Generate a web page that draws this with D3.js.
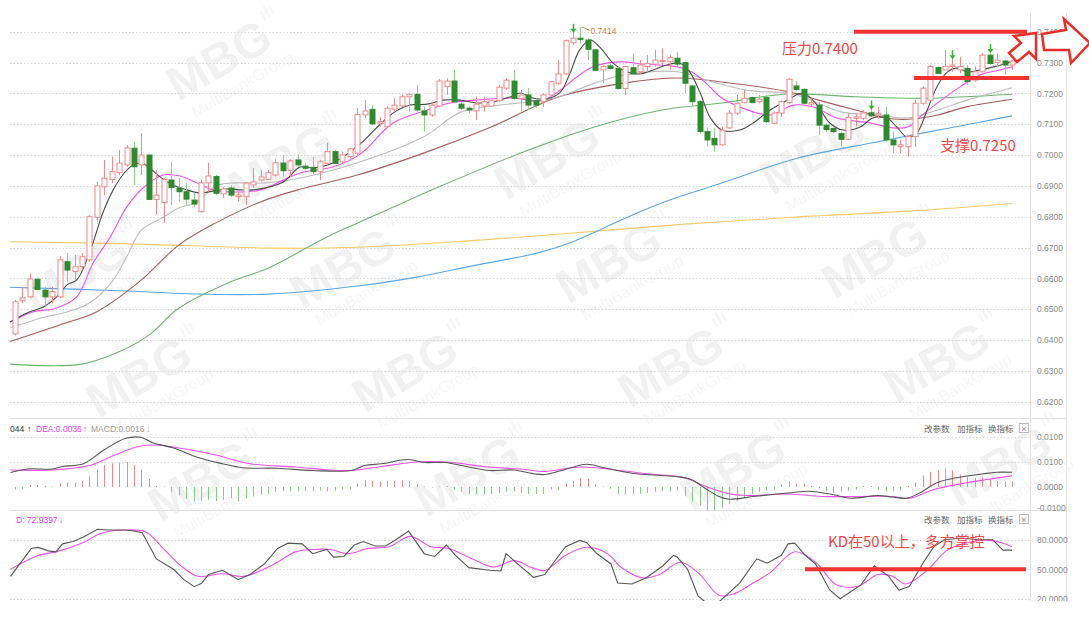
<!DOCTYPE html>
<html><head><meta charset="utf-8">
<script src="https://cdn.jsdelivr.net/npm/d3@7"></script>
<style>body{margin:0;background:#fff;overflow:hidden}svg{display:block}</style>
</head><body>
<svg id="c" width="1089" height="624"></svg>
<script>
// ---------- data ----------
const open=[.6420,.6527,.6540,.6597,.6562,.6540,.6540,.6654,.6622,.6638,
.6660,.6798,.6897,.6921,.6943,.6968,.7022,.6968,.7000,.6856,
.6846,.6919,.6893,.6881,.6854,.6816,.6910,.6930,.6874,.6893,
.6865,.6865,.6903,.6919,.6921,.6935,.6974,.6951,.6984,.6964,
.6960,.6946,.6973,.7011,.6978,.6995,.7006,.7130,.7148,.7103,
.7092,.7149,.7159,.7189,.7197,.7143,.7130,.7159,.7222,.7240,
.7165,.7152,.7143,.7159,.7159,.7176,.7217,.7240,.7184,.7195,
.7176,.7173,.7195,.7233,.7263,.7364,.7379,.7373,.7341,.7276,
.7289,.7281,.7216,.7283,.7270,.7287,.7295,.7303,.7303,.7314,
.7300,.7224,.7173,.7076,.7054,.7033,.7088,.7136,.7170,.7186,
.7173,.7186,.7103,.7136,.7170,.7224,.7213,.7165,.7162,.7097,
.7086,.7070,.7051,.7119,.7119,.7137,.7130,.7130,.7049,.7027,
.7027,.7060,.7168,.7178,.7284,.7276,.7287,.7276,.7281,.7243,
.7270,.7324,.7300,.7305,.7292];
const high=[.6530,.6573,.6617,.6600,.6573,.6573,.6672,.6682,.6676,.6682,
.6805,.6913,.6984,.6995,.7016,.7033,.7043,.7071,.7002,.6951,
.6925,.6978,.6925,.6909,.6877,.6921,.6975,.6935,.6897,.6903,
.6881,.6913,.6958,.6951,.6951,.6986,.7000,.6986,.7003,.6973,
.6995,.6984,.7040,.7016,.7011,.7022,.7152,.7178,.7162,.7124,
.7159,.7184,.7195,.7200,.7227,.7157,.7173,.7246,.7249,.7276,
.7173,.7159,.7189,.7189,.7178,.7227,.7249,.7276,.7211,.7217,
.7184,.7200,.7240,.7308,.7375,.7406,.7414,.7380,.7343,.7292,
.7297,.7287,.7289,.7330,.7308,.7324,.7341,.7346,.7324,.7335,
.7303,.7227,.7178,.7089,.7087,.7092,.7146,.7195,.7211,.7189,
.7195,.7195,.7141,.7178,.7249,.7240,.7217,.7184,.7173,.7103,
.7092,.7076,.7135,.7135,.7146,.7157,.7157,.7157,.7076,.7049,
.7065,.7178,.7224,.7292,.7287,.7341,.7320,.7319,.7292,.7287,
.7330,.7341,.7330,.7308,.7308];
const low=[.6415,.6519,.6536,.6562,.6508,.6519,.6536,.6589,.6595,.6627,
.6653,.6783,.6870,.6909,.6935,.6962,.6903,.6935,.6854,.6805,
.6780,.6838,.6849,.6838,.6832,.6813,.6881,.6870,.6860,.6865,
.6849,.6838,.6893,.6913,.6919,.6930,.6930,.6928,.6962,.6951,
.6938,.6919,.6968,.6971,.6973,.6989,.7000,.7120,.7097,.7092,
.7087,.7141,.7155,.7141,.7141,.7076,.7124,.7157,.7195,.7169,
.7146,.7136,.7114,.7141,.7157,.7173,.7211,.7178,.7141,.7146,
.7152,.7157,.7189,.7227,.7260,.7357,.7362,.7308,.7273,.7234,
.7276,.7213,.7195,.7260,.7263,.7270,.7287,.7292,.7276,.7287,
.7200,.7162,.7070,.7027,.7011,.7030,.7084,.7130,.7168,.7168,
.7168,.7103,.7101,.7124,.7165,.7209,.7165,.7157,.7065,.7076,
.7070,.7027,.7049,.7092,.7114,.7122,.7119,.7043,.7006,.7006,
.6995,.7027,.7162,.7176,.7263,.7276,.7270,.7265,.7227,.7238,
.7267,.7292,.7287,.7260,.7276];
const close=[.6524,.6537,.6598,.6564,.6540,.6557,.6660,.6627,.6638,.6670,
.6800,.6900,.6925,.6946,.6974,.7023,.6962,.7000,.6856,.6870,
.6921,.6895,.6881,.6857,.6841,.6910,.6932,.6876,.6890,.6870,
.6870,.6909,.6913,.6929,.6943,.6975,.6949,.6981,.6968,.6957,
.6946,.6978,.7011,.6973,.7000,.7020,.7132,.7143,.7101,.7108,
.7152,.7162,.7189,.7197,.7146,.7130,.7162,.7240,.7240,.7173,
.7152,.7146,.7165,.7173,.7176,.7220,.7243,.7184,.7195,.7162,
.7162,.7195,.7238,.7263,.7371,.7379,.7375,.7343,.7275,.7287,
.7281,.7216,.7287,.7263,.7292,.7297,.7308,.7306,.7316,.7295,
.7233,.7173,.7076,.7049,.7033,.7081,.7136,.7168,.7184,.7170,
.7181,.7108,.7136,.7173,.7246,.7213,.7168,.7170,.7097,.7083,
.7076,.7051,.7122,.7124,.7137,.7127,.7135,.7049,.7033,.7033,
.7060,.7168,.7217,.7287,.7265,.7287,.7292,.7287,.7238,.7270,
.7324,.7297,.7308,.7292,.7305];

// moving averages: [bar index, price]
const ma5=[[-0.7,.6458],[1.6,.6488],[3.8,.6507],[5.6,.6540],[7,.6579],[8.3,.6595],[10,.6682],[11.8,.6812],[13.2,.6887],[14.8,.6945],[15.9,.6968],[17,.6974],[18.1,.6958],[19.5,.6929],[21.2,.6903],[23.1,.6887],[24.9,.6877],[26.6,.6883],[28.5,.6890],[30.2,.6887],[32,.6887],[36,.6912],[38.3,.6961],[40,.6958],[42.7,.6974],[46.4,.7036],[48.7,.7091],[50.8,.7136],[53.1,.7162],[55.4,.7165],[57.5,.7178],[59.8,.7178],[62.1,.7169],[64.2,.7172],[66.5,.7188],[67.9,.7201],[69.6,.7185],[71.5,.7182],[73.3,.7204],[74.6,.7266],[75.9,.7341],[77.3,.7373],[78.6,.7350],[80.4,.7298],[82.3,.7269],[84,.7263],[85.8,.7276],[87.6,.7292],[89.4,.7298],[90.7,.7269],[92.1,.7201],[93.4,.7123],[95,.7081],[97.4,.7081],[99.2,.7104],[101.5,.7146],[103.8,.7178],[105.9,.7201],[107.8,.7162],[109.5,.7104],[111.3,.7081],[113.6,.7091],[115.3,.7120],[117.2,.7120],[118.5,.7091],[119.9,.7058],[121.2,.7071],[122.6,.7146],[123.9,.7221],[125.3,.7269],[126.6,.7282],[128,.7269],[129.7,.7276],[131.5,.7286],[133.3,.7298],[134,.7305]];
const ma10=[[-0.7,.6458],[2.4,.6491],[5.6,.6504],[8.3,.6540],[10.5,.6650],[12.8,.6734],[15,.6831],[17.2,.6893],[19.9,.6935],[22.2,.6932],[24.5,.6909],[26.6,.6887],[29.3,.6880],[33,.6887],[38.3,.6942],[42.7,.6961],[46.4,.7003],[50.8,.7104],[55.4,.7146],[58.5,.7169],[62,.7178],[66.5,.7185],[71,.7178],[73.3,.7211],[75.5,.7253],[77.7,.7286],[81.3,.7302],[84.4,.7295],[89,.7286],[91,.7269],[93.4,.7221],[94.8,.7188],[97.4,.7156],[101.5,.7130],[104.6,.7162],[107.3,.7156],[110.5,.7120],[115,.7104],[118,.7088],[120,.7091],[121.6,.7123],[124,.7169],[127,.7221],[129.7,.7260],[132.4,.7276],[134,.7286]];
const ma20=[[-0.7,.6439],[4,.6475],[7,.6491],[10,.6520],[13,.6588],[15,.6669],[17,.6757],[20,.6799],[22,.6828],[24.5,.6848],[27,.6900],[29,.6909],[33,.6909],[37,.6919],[46,.6975],[55,.7060],[60,.7140],[69,.7172],[73,.7188],[78,.7234],[82,.7260],[89,.7270],[94,.7235],[99,.7208],[104,.7201],[107,.7178],[111,.7140],[116,.7130],[120,.7120],[124,.7146],[128,.7178],[134,.7218]];
const ma30=[[-0.7,.6395],[6,.6449],[11,.6492],[17,.6595],[22,.6708],[27,.6780],[33,.6848],[38,.6887],[46,.6935],[55,.7007],[64,.7091],[73,.7188],[82,.7234],[89,.7250],[95,.7237],[104,.7205],[108,.7178],[113,.7146],[117,.7120],[120,.7116],[124,.7130],[128,.7157],[134,.7181]];
const ma60=[[-0.7,.6322],[9,.6322],[14,.6362],[18,.6416],[22,.6503],[29,.6589],[34,.6633],[42,.6735],[46,.6779],[50,.6822],[57,.6897],[69,.7016],[78,.7092],[87,.7146],[95,.7169],[104,.7198],[113,.7189],[122,.7184],[134,.7197]];
const ma120=[[-0.7,.6571],[14,.6560],[25,.6549],[34,.6549],[46,.6575],[54,.6604],[62,.6643],[70,.6681],[75,.6719],[79,.6762],[84,.6816],[88,.6854],[95,.6909],[105,.6989],[116,.7043],[123,.7076],[130,.7108],[134,.7127]];
const ma250=[[-0.7,.6719],[15,.6712],[35,.6698],[45,.6700],[60,.6720],[75,.6747],[90,.6776],[105,.6799],[120,.6818],[134,.6843]];

// MACD panel
const macdHist=[-.0010,-.0008,.0007,.0007,.0004,.0002,.0015,.0018,.0018,.0025,
.0042,.0070,.0088,.0095,.0097,.0100,.0088,.0070,.0032,.0004,
.0002,-.0019,-.0033,-.0047,-.0058,-.0056,-.0051,-.0056,-.0051,-.0044,
-.0058,-.0047,-.0038,-.0031,-.0028,-.0019,-.0017,-.0017,-.0017,-.0017,
-.0017,-.0014,-.0017,-.0014,-.0010,-.0010,.0014,.0028,.0025,.0022,
.0025,.0025,.0028,.0025,.0011,.0002,-.0002,.0002,.0004,-.0010,
-.0019,-.0028,-.0031,-.0031,-.0028,-.0024,-.0019,-.0017,-.0024,-.0028,
-.0028,-.0028,-.0010,-.0014,.0014,.0025,.0035,.0032,.0011,.0002,
-.0006,-.0028,-.0031,-.0028,-.0028,-.0024,-.0019,-.0017,-.0017,-.0014,
-.0037,-.0058,-.0075,-.0093,-.0107,-.0086,-.0069,-.0056,-.0042,-.0028,
-.0019,-.0014,-.0010,.0011,.0022,.0014,.0014,.0004,-.0006,-.0017,
-.0024,-.0019,-.0014,-.0010,.0004,.0004,-.0010,-.0017,-.0017,-.0014,
.0004,.0018,.0046,.0060,.0069,.0074,.0067,.0050,.0042,.0036,
.0039,.0032,.0025,.0022,.0022];
const dif=[[-0.6,.0058],[1.7,.0072],[5,.0072],[6.4,.0082],[9.2,.0093],[12,.0149],[14.8,.0194],[16.9,.0199],[18.5,.0177],[21.3,.0156],[24.6,.0118],[27.9,.0093],[30.6,.0077],[35.3,.0075],[40,.0066],[45.2,.0066],[47,.0086],[49.3,.0093],[52.9,.0110],[55,.0098],[57.8,.0098],[61,.0080],[63.8,.0066],[67,.0068],[69.9,.0052],[71.2,.0050],[73.5,.0066],[76.8,.0091],[79.2,.0077],[82.9,.0055],[89,.0041],[90.8,.0031],[92.7,-.0004],[94.6,-.0038],[96,-.0049],[99.2,-.0038],[103.9,-.0024],[106.7,-.0017],[110,-.0031],[112.2,-.0045],[116,-.0034],[117.9,-.0040],[119.8,-.0045],[121.6,-.0024],[123.9,.0017],[126.7,.0038],[130,.0052],[131.9,.0059],[134,.0059]];
const dea=[[-0.6,.0068],[5,.0068],[10,.0086],[13.4,.0128],[16.7,.0163],[19,.0168],[22.7,.0153],[27,.0128],[31.6,.0093],[37.7,.0080],[42.3,.0068],[45.2,.0066],[49.3,.0082],[54,.0100],[58.7,.0098],[63.4,.0080],[68,.0072],[71.2,.0062],[75.9,.0080],[80.5,.0069],[85.2,.0052],[89.9,.0038],[92.2,.0010],[95.5,-.0024],[98.3,-.0034],[103.9,-.0028],[108.5,-.0038],[113.2,-.0038],[117.9,-.0038],[120.2,-.0045],[123.5,-.0010],[127.2,.0013],[130.9,.0031],[134,.0045]];
const macdTickVals=[0.02,0.01,0,-0.0084];
const macdTickLabels=["0.0100","0.0100","0.0000","-0.0100"];

// KD panel
const kLine=[[-0.6,42.9],[0.8,57.0],[2.2,71.1],[3.1,72.1],[4.5,68.6],[5.5,67.6],[6.4,75.7],[7.8,78.1],[9.2,82.6],[11.1,90.4],[12.5,89.7],[14.8,89.7],[16,88.7],[17.1,86.9],[19,60.5],[21.3,50.0],[22.7,39.5],[24.1,32.4],[25.1,36.0],[26,44.7],[27.9,49.0],[30,39.5],[31.6,44.7],[33.5,55.3],[35.3,71.1],[36.7,76.4],[38.6,75.7],[40,65.8],[41.9,70.0],[42.8,62.3],[44.2,63.0],[45.6,74.5],[46.8,78.1],[48.4,73.5],[49.8,73.5],[51.2,79.8],[52.9,88.6],[55,65.8],[56.4,63.0],[58,74.5],[59.2,64.0],[61,51.7],[63.8,49.0],[65.3,48.3],[66,65.8],[67.6,55.3],[69.7,41.9],[71.2,44.7],[72.6,58.9],[74,72.9],[75.9,79.2],[76.8,77.1],[78.2,65.9],[80.1,55.4],[81,36.1],[82.9,35.1],[84.8,41.3],[87.1,53.6],[88.5,64.1],[89,62.4],[90.4,50.1],[91.8,23.1],[93.1,15.0],[94.6,17.0],[97.4,36.1],[99.7,60.6],[101.1,56.1],[103,64.1],[103.9,75.7],[104.8,76.4],[106.2,64.1],[107.6,55.4],[109.5,29.1],[110.9,20.3],[112.3,27.4],[113.7,34.3],[115.5,53.6],[117.4,43.1],[118.8,29.1],[120.2,32.6],[122.1,57.1],[123.5,72.9],[124.9,79.9],[127.2,81.6],[129.5,79.9],[131.4,79.9],[132.8,69.4],[134,69.4]];
const dLine=[[-0.6,50.0],[3.1,64.0],[5.5,67.6],[9.2,77.1],[11.5,86.2],[14.8,89.7],[17.6,87.6],[19.9,71.1],[22.3,53.5],[24.6,42.9],[27.9,45.5],[30.7,42.9],[34.4,53.5],[37.7,67.6],[40,70.0],[42.4,70.0],[44.7,65.8],[47.5,71.1],[50.3,72.8],[53.1,83.3],[55.9,72.8],[58.3,71.1],[61.5,60.5],[64.3,52.4],[67.1,58.8],[69.5,51.7],[71.2,48.8],[74,64.1],[76.8,72.2],[79.6,65.9],[81.5,51.8],[84.3,41.3],[86.6,44.8],[89.4,57.1],[91.8,46.6],[94.6,23.8],[96.4,24.5],[99.2,36.1],[101.5,46.6],[104.8,67.7],[107.6,57.1],[110.4,34.3],[113.2,32.6],[116,44.8],[117.9,43.1],[119.7,35.1],[122.5,48.4],[125.3,69.4],[128.1,77.1],[130.9,79.2],[132.8,76.4],[134,72.9]];

const priceTicks=[0.74,0.73,0.72,0.71,0.70,0.69,0.68,0.67,0.66,0.65,0.64,0.63,0.62];
const kdTicks=[80,50,20];
const markerIdx=[75,115,126,131];
const resistance=0.7400, support=0.7250, kdLevel=50, peakIdx=76;

// ---------- drawing ----------
const svg=d3.select('#c');
const N=open.length;
const FONT='"Liberation Sans",Arial,sans-serif';
const CJK='"Noto Sans CJK SC","Noto Sans",sans-serif';
const x=d3.scaleLinear().domain([0,N-1]).range([15,1012]);
const yP=d3.scaleLinear().domain([0.62,0.74]).range([401.7,31.7]);
const yM=d3.scaleLinear().domain([0,0.01]).range([487,462]);
const yK=d3.scaleLinear().domain([20,80]).range([599,539.6]);

svg.append('rect').attr('width',1089).attr('height',624).attr('fill','#fff');

// watermark (only the tiles that fit inside the picture)
const wm=svg.append('g').attr('fill','#000').attr('fill-opacity',0.055).attr('font-family',FONT);
for(let r=-1;r<7;r++)for(let c=-2;c<5;c++){
  const cx=220+c*266+r*62, cy=62-c*5+r*104;
  if(cx<75||cx>1010||cy<62||cy>548)continue;
  const g=wm.append('g').attr('transform',`translate(${cx},${cy}) rotate(-30)`);
  g.append('text').attr('text-anchor','middle').attr('font-size',48).attr('font-weight','bold').attr('y',14).text('MBG');
  g.append('text').attr('text-anchor','middle').attr('font-size',16).attr('x',8).attr('y',36).text('MultiBankGroup');
  g.append('text').attr('font-size',18).attr('font-weight','bold').attr('x',58).attr('y',-14).text('ıIı');
}

// frame lines
const frame=svg.append('g').attr('stroke','#e3e3e3').attr('fill','none');
frame.append('line').attr('x1',1030.5).attr('x2',1030.5).attr('y1',13).attr('y2',601);
frame.append('line').attr('x1',1066.5).attr('x2',1066.5).attr('y1',13).attr('y2',601);
frame.append('line').attr('x1',10).attr('x2',1066).attr('y1',418.5).attr('y2',418.5);
frame.append('line').attr('x1',10).attr('x2',1066).attr('y1',510.5).attr('y2',510.5);

// grids
const grid=svg.append('g').attr('stroke','#d8d8d8').attr('stroke-dasharray','1.5,2');
grid.selectAll('.gp').data(priceTicks).join('line').attr('x1',10).attr('x2',1030)
  .attr('y1',d=>Math.round(yP(d))+0.5).attr('y2',d=>Math.round(yP(d))+0.5);
grid.selectAll('.gm').data(macdTickVals.slice(0,2)).join('line').attr('x1',10).attr('x2',1030)
  .attr('y1',d=>Math.round(yM(d))+0.5).attr('y2',d=>Math.round(yM(d))+0.5);
grid.selectAll('.gk').data(kdTicks).join('line').attr('x1',10).attr('x2',1030)
  .attr('y1',d=>Math.round(yK(d))+0.5).attr('y2',d=>Math.round(yK(d))+0.5);

// clip paths
const defs=svg.append('defs');
defs.append('clipPath').attr('id','cMain').append('rect').attr('x',8).attr('y',13).attr('width',1022).attr('height',404);
defs.append('clipPath').attr('id','cMacd').append('rect').attr('x',8).attr('y',419).attr('width',1022).attr('height',91);
defs.append('clipPath').attr('id','cKd').append('rect').attr('x',8).attr('y',511).attr('width',1022).attr('height',90);

// main: MAs (long ones behind)
const mainG=svg.append('g').attr('clip-path','url(#cMain)');
const lineP=d3.line().x(d=>x(d[0])).y(d=>yP(d[1])).curve(d3.curveCatmullRom.alpha(0.5));
[[ma250,'#ffc868'],[ma120,'#5aa6e6'],[ma60,'#6cb66c'],[ma30,'#a85a5a'],[ma20,'#bdbdbd'],[ma10,'#f050f0'],[ma5,'#4a4a4a']]
 .forEach(([d,c])=>mainG.append('path').datum(d).attr('d',lineP).attr('fill','none').attr('stroke',c).attr('stroke-width',1.1));

// candles
const cg=mainG.append('g');
d3.range(N).forEach(i=>{
  const up=close[i]>=open[i];
  const cx=Math.round(x(i))+0.5;
  const top=yP(Math.max(open[i],close[i])), bot=yP(Math.min(open[i],close[i]));
  cg.append('line').attr('x1',cx).attr('x2',cx).attr('y1',yP(high[i])).attr('y2',yP(low[i]))
    .attr('stroke',up?'#f08a8a':'#8fcf8f').attr('stroke-width',1);
  cg.append('rect').attr('x',cx-2.5).attr('width',5).attr('y',top).attr('height',Math.max(1,bot-top))
    .attr('fill',up?'#fff':'#2f8a2f').attr('stroke',up?'#f08a8a':'#2f8a2f').attr('stroke-width',1);
});

// green markers
markerIdx.forEach(i=>{
  const cx=Math.round(x(i))+0.5, yb=yP(high[i])+3;
  mainG.append('path').attr('d',`M${cx},${yb-9}V${yb-3}`).attr('stroke','#32b432').attr('stroke-width',1.5);
  mainG.append('path').attr('d',`M${cx-3},${yb-4}L${cx+3},${yb-4}L${cx},${yb}Z`).attr('fill','#32b432');
});
// peak label
const px=x(peakIdx), py=yP(high[peakIdx]);
svg.append('path').attr('d',`M${px+1},${py}L${px+3},${py}L${px+9},${py+3}`).attr('stroke','#e07a3a').attr('fill','none');
svg.append('text').attr('x',px+10).attr('y',py+7).attr('font-size',8.5).attr('font-family',FONT).attr('fill','#e07a3a').text(d3.format('.4f')(high[peakIdx]));

// annotations
const red='#f03232', redT='#f04848';
svg.append('line').attr('x1',854).attr('x2',1027).attr('y1',yP(resistance)).attr('y2',yP(resistance)).attr('stroke',red).attr('stroke-width',4);
svg.append('line').attr('x1',914).attr('x2',1029).attr('y1',yP(support)).attr('y2',yP(support)).attr('stroke',red).attr('stroke-width',4);
svg.append('text').attr('x',782).attr('y',54).attr('font-size',15).attr('font-family',CJK).attr('fill',redT).text('压力0.7400');
svg.append('text').attr('x',940).attr('y',151).attr('font-size',15).attr('font-family',CJK).attr('fill',redT).text('支撑0.7250');

// axes right
function styleAxis(g){g.select('.domain').remove();g.selectAll('line').remove();
  g.selectAll('text').attr('fill','#8a8a8a').attr('font-size',8.5).attr('font-family',FONT);}
svg.append('g').attr('transform','translate(1034,0)')
  .call(d3.axisRight(yP).tickValues(priceTicks).tickFormat(d3.format('.4f')).tickSize(0).tickPadding(3)).call(styleAxis);
svg.append('g').attr('transform','translate(1034,0)')
  .call(d3.axisRight(yM).tickValues(macdTickVals).tickFormat((d,i)=>macdTickLabels[i]).tickSize(0).tickPadding(3)).call(styleAxis);
svg.append('g').attr('transform','translate(1034,0)')
  .call(d3.axisRight(yK).tickValues(kdTicks).tickFormat(d3.format('.4f')).tickSize(0).tickPadding(3)).call(styleAxis);

// arrows top right
const arrowG=svg.append('g').attr('fill','#fff').attr('stroke','#ec2b2b').attr('stroke-width',2.5).attr('stroke-linejoin','miter');
arrowG.append('polygon').attr('points','1036,33 1036,59 1029,52 1017,62 1009,53 1021,43 1014,36');
arrowG.append('polygon').attr('points','1042,34 1066,30 1064,19 1090,43 1071,63 1069,50 1044,50');

// MACD panel
const macdG=svg.append('g').attr('clip-path','url(#cMacd)');
macdG.selectAll('.hb').data(macdHist).join('line')
  .attr('x1',(d,i)=>Math.round(x(i))+0.5).attr('x2',(d,i)=>Math.round(x(i))+0.5)
  .attr('y1',yM(0)).attr('y2',d=>yM(d)).attr('stroke',d=>d>=0?'#f08a8a':'#86c886').attr('stroke-width',1);
const lineM=d3.line().x(d=>x(d[0])).y(d=>yM(d[1])).curve(d3.curveCatmullRom.alpha(0.5));
macdG.append('path').datum(dea).attr('d',lineM).attr('fill','none').attr('stroke','#f050f0').attr('stroke-width',1.1);
macdG.append('path').datum(dif).attr('d',lineM).attr('fill','none').attr('stroke','#555').attr('stroke-width',1.1);

const hdr=svg.append('g').attr('font-family',FONT).attr('font-size',8.5);
hdr.append('text').attr('x',10).attr('y',432).attr('fill','#333').text('044');
hdr.append('text').attr('x',27).attr('y',432).attr('fill','#333').text('↑');
hdr.append('text').attr('x',36).attr('y',432).attr('fill','#f040f0').text('DEA:0.0036');
hdr.append('text').attr('x',83).attr('y',432).attr('fill','#f040f0').text('↑');
hdr.append('text').attr('x',91).attr('y',432).attr('fill','#999').text('MACD:0.0016');
hdr.append('text').attr('x',146).attr('y',432).attr('fill','#999').text('↓');
hdr.append('text').attr('x',16).attr('y',523).attr('fill','#f040f0').text('D: 72.9397');
hdr.append('text').attr('x',59).attr('y',523).attr('fill','#f040f0').text('↓');

[432,523].forEach(by=>{
  const b=svg.append('g').attr('font-family',CJK).attr('font-size',8.5).attr('fill','#666');
  b.append('text').attr('x',924).attr('y',by).text('改参数');
  b.append('text').attr('x',957).attr('y',by).text('加指标');
  b.append('text').attr('x',988).attr('y',by).text('换指标');
  b.append('rect').attr('x',1019.5).attr('y',by-8.5).attr('width',9).attr('height',9).attr('fill','#fff').attr('stroke','#bbb');
  b.append('text').attr('x',1024).attr('y',by-0.5).attr('text-anchor','middle').attr('font-family',FONT).attr('fill','#888').attr('font-size',9).text('×');
});

// KD panel
const kdG=svg.append('g').attr('clip-path','url(#cKd)');
kdG.append('path').datum(dLine).attr('d',d3.line().x(d=>x(d[0])).y(d=>yK(d[1])).curve(d3.curveCatmullRom.alpha(0.5)))
  .attr('fill','none').attr('stroke','#f050f0').attr('stroke-width',1.1);
kdG.append('path').datum(kLine).attr('d',d3.line().x(d=>x(d[0])).y(d=>yK(d[1])))
  .attr('fill','none').attr('stroke','#555').attr('stroke-width',1.1);
svg.append('line').attr('x1',805).attr('x2',1026).attr('y1',yK(kdLevel)).attr('y2',yK(kdLevel)).attr('stroke',red).attr('stroke-width',4);
svg.append('text').attr('x',828).attr('y',547).attr('font-size',15).attr('font-family',CJK).attr('fill',redT).text('KD在50以上，多方掌控');

// bottom crop
svg.append('rect').attr('x',0).attr('y',601).attr('width',1089).attr('height',23).attr('fill','#fff');
</script>
</body></html>
